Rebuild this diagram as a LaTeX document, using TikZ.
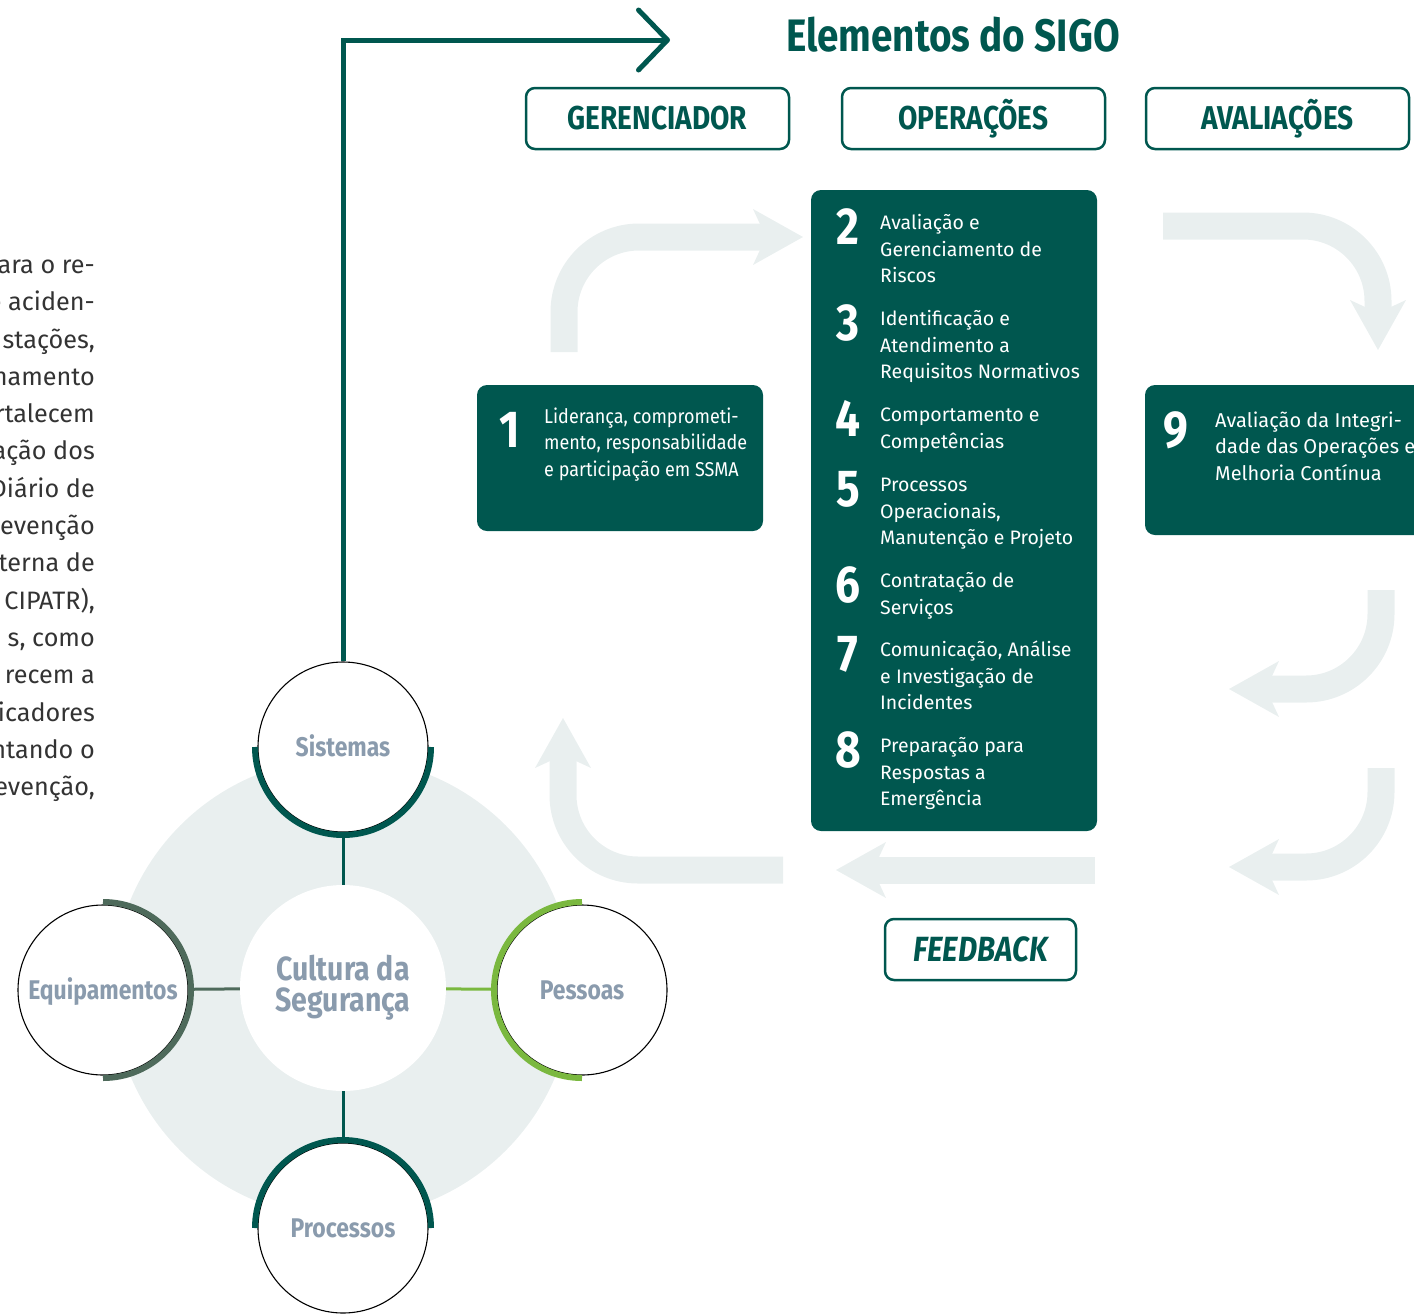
\documentclass[tikz,border=0pt]{standalone}
\usepackage{fontspec}
\setmainfont{Fira Sans}
\newfontfamily\headfont{Fira Sans}[FakeStretch=0.85]
\newfontfamily\narrowfont{Fira Sans}[FakeStretch=0.9]
\usepackage{xcolor}
\usetikzlibrary{arrows.meta}

\definecolor{sigo}{HTML}{00574F}
\definecolor{paleg}{HTML}{E9EFEF}
\definecolor{labelg}{HTML}{8A9BAD}
\definecolor{pessg}{HTML}{7AB83F}
\definecolor{equig}{HTML}{4E6A5B}
\definecolor{parag}{HTML}{333333}

\newcommand{\sigotitle}{\headfont\bfseries\fontsize{45.5}{45.5}\selectfont}
\newcommand{\sigohead}{\headfont\bfseries\fontsize{33}{33}\selectfont}
\newcommand{\sigonum}{\headfont\bfseries\fontsize{52}{52}\selectfont}
\newcommand{\sigobody}{\fontsize{19.5}{26.5}\selectfont}
\newcommand{\sigonarrow}{\narrowfont\fontsize{20}{26.5}\selectfont}
\newcommand{\sigolabel}{\headfont\bfseries\fontsize{27}{27}\selectfont}
\newcommand{\sigocult}{\headfont\bfseries\fontsize{33.5}{31}\selectfont}
\newcommand{\sigopara}{\fontsize{25.2}{37.3}\selectfont}
\newcommand{\firstrule}{\rule{0pt}{1em}}

\begin{document}
\begin{tikzpicture}[x=1pt, y=-1pt,
    headbox/.style={draw=sigo, line width=2.5pt, rounded corners=9pt, minimum width=263pt,
        minimum height=61pt, text=sigo, font=\sigohead, text height=22pt, text depth=0pt},
    darkbox/.style={fill=sigo, rounded corners=10pt, inner sep=0pt},
    num/.style={text=white, font=\sigonum, inner sep=0pt},
    txt/.style={text=white, font=\sigobody, align=left, inner sep=0pt},
    pale/.style={draw=paleg, line width=27pt, rounded corners=75pt,
        -{Stealth[length=50pt, width=56pt, inset=13pt, line width=0pt]}},
    sat/.style={circle, draw=black, line width=1.1pt, fill=white, minimum size=170pt,
        inner sep=0pt, text=labelg, font=\sigolabel, text height=19pt, text depth=0pt}]
    \useasboundingbox (0,0) rectangle (1414,1315);
    \clip (0,0) rectangle (1414,1315);

    % text column on the left, cut by the page edge
    \node[anchor=north east, align=right, inner sep=0pt, font=\sigopara, text=parag] (par) at (95,248)
        {\firstrule ara o re-\\e aciden-\\stações,\\namento\\rtalecem\\ação dos\\Diário de\\evenção\\terna de\\CIPATR),\\s, como\\recem a\\icadores\\ntando o\\evenção,};

    % pale cycle arrows
    \draw[pale] (564,352) |- (803,237);
    \draw[pale] (1163,226) -| (1378,350);
    \draw[pale] (1381,590) |- (1229,689);
    \draw[pale] (1381,768) |- (1229,867);
    \draw[pale] (1095,870) -- (836,870);
    \draw[pale] (783,870) -| (563,718);

    % culture circle
    \fill[paleg] (343,988) circle (230pt);
    \node[circle, fill=white, minimum size=206pt, inner sep=0pt, text=labelg, font=\sigocult, align=center] (cul) at (343,988) {Cultura da\\Segurança};
    \node[sat] (sis) at (343,747) {Sistemas};
    \node[sat] (pro) at (343,1228) {Processos};
    \node[sat] (equ) at (103,990) {Equipamentos};
    \node[sat] (pes) at (582,990) {Pessoas};
    \draw[sigo, line width=6pt] ([xshift=-88pt]sis.center) arc[start angle=180, end angle=360, radius=88pt];
    \draw[sigo, line width=6pt] ([xshift=-88pt]pro.center) arc[start angle=180, end angle=0, radius=88pt];
    \draw[equig, line width=6pt] ([yshift=88pt]equ.center) arc[start angle=90, end angle=-90, radius=88pt];
    \draw[pessg, line width=6pt] ([yshift=88pt]pes.center) arc[start angle=90, end angle=270, radius=88pt];
    \draw[sigo, line width=3pt] (sis) -- (cul);
    \draw[sigo, line width=3pt] (pro) -- (cul);
    \draw[equig, line width=3pt] (equ) -- (cul);
    \draw[pessg, line width=3pt] (pes) -- (cul);

    % arrow up to the elements
    \coordinate (elem) at (670,40);
    \draw[sigo, line width=5pt, -{Straight Barb[length=29pt, width=60pt, round]}] (sis.north) |- (elem);

    \node[anchor=base, text=sigo, font=\sigotitle] (tit) at (953,51) {Elementos do SIGO};
    \node[headbox] (ger) at (657.5,118.5) {GERENCIADOR};
    \node[headbox] (ope) at (973.5,118.5) {OPERAÇÕES};
    \node[headbox] (ava) at (1277.5,118.5) {AVALIAÇÕES};
    \node[headbox, minimum width=191pt, font=\sigohead\fontsize{35}{35}\selectfont\itshape, text height=24pt] (fee) at (980.5,949.5) {FEEDBACK};

    % element boxes
    \node[darkbox, minimum width=286pt, minimum height=146pt] (lid) at (620,458) {};
    \node[num, anchor=base] (n1) at (510,447) {1};
    \node[txt, font=\sigonarrow, anchor=north west] (t1) at (544,403)
        {\firstrule Liderança, comprometi-\\mento, responsabilidade\\e participação em SSMA};

    \node[darkbox, minimum width=286pt, minimum height=641pt] (opbox) at (954,510.5) {};
    \foreach \n/\c/\t in {2/222/{Avaliação e\\Gerenciamento de\\Riscos},
        3/318/{Identificação e\\Atendimento a\\Requisitos Normativos},
        4/414/{Comportamento e\\Competências},
        5/484/{Processos\\Operacionais,\\Manutenção e Projeto},
        6/580/{Contratação de\\Serviços},
        7/649/{Comunicação, Análise\\e Investigação de\\Incidentes},
        8/745/{Preparação para\\Respostas a\\Emergência}}{
        \node[num, anchor=base] (n\n) at (848,\c+22) {\n};
        \node[txt, anchor=north west] (t\n) at (880,\c-12) {\firstrule\t};
    }

    \node[darkbox, minimum width=286pt, minimum height=150pt] (integ) at (1288,460) {};
    \node[num, anchor=base] (n9) at (1176,447) {9};
    \node[txt, font=\fontsize{20}{26.5}\selectfont, anchor=north west] (t9) at (1215,407)
        {\firstrule Avaliação da Integri-\\dade das Operações e\\Melhoria Contínua};
\end{tikzpicture}
\end{document}
